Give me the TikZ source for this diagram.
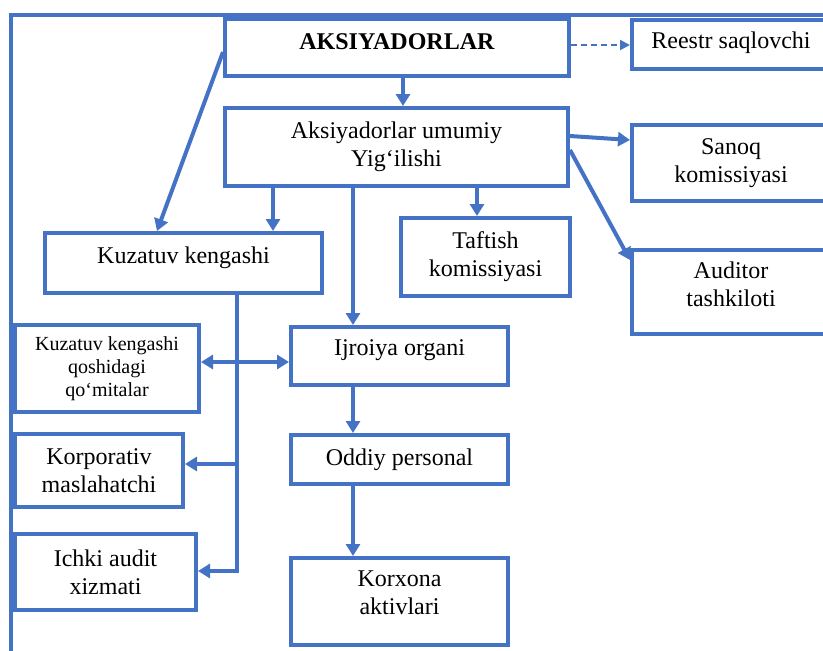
\documentclass[tikz,border=0pt]{standalone}
\usepackage{fontspec}
\setmainfont{Liberation Serif}
\usetikzlibrary{arrows.meta}
\definecolor{bl}{HTML}{4472C4}
\newcommand{\txtup}[2]{\raisebox{#1}[\height][\depth]{#2}}
\begin{document}
\begin{tikzpicture}[x=1pt,y=-1pt,
  box/.style={draw=bl, line width=4pt, inner sep=0pt, align=center, font=\fontsize{24}{28}\selectfont},
  ln/.style={draw=bl, line width=4pt, line join=miter},
  arr/.style={ln, -{Triangle[length=12pt,width=14pt]}},
  arr2/.style={ln, {Triangle[length=12pt,width=14pt]}-{Triangle[length=12pt,width=14pt]}},
  dsh/.style={draw=bl, line width=2pt, dash pattern=on 6pt off 4pt, -{Triangle[length=10pt,width=10pt]}}]
\useasboundingbox (0,0) rectangle (823,651);
\clip (0,0) rectangle (823,651);
% frame
\draw[ln] (11,660) -- (11,15) -- (830,15);
% boxes
\node[box, minimum width=344pt, minimum height=57pt] (aks) at (397,47.5) {\txtup{6pt}{\textbf{AKSIYADORLAR}}};
\node[box, minimum width=343pt, minimum height=78pt] (umu) at (396.5,147) {Aksiyadorlar umumiy\\Yig‘ilishi};
\node[box, minimum width=277pt, minimum height=60pt] (kuz) at (183.5,263) {\txtup{5pt}{Kuzatuv kengashi}};
\node[box, minimum width=169pt, minimum height=78pt] (taf) at (485.5,257) {Taftish\\komissiyasi};
\node[box, minimum width=198pt, minimum height=49pt] (ree) at (731,44.5) {\txtup{2pt}{Reestr saqlovchi}};
\node[box, minimum width=198pt, minimum height=76pt] (san) at (731,163) {Sanoq\\komissiyasi};
\node[box, minimum width=198pt, minimum height=84pt] (aud) at (731,292) {\txtup{5pt}{\begin{tabular}{@{}c@{}}Auditor\\tashkiloti\end{tabular}}};
\node[box, font=\fontsize{20}{23}\selectfont, minimum width=184pt, minimum height=87pt] (qos) at (107,368.5) {Kuzatuv kengashi\\qoshidagi\\qo‘mitalar};
\node[box, minimum width=168pt, minimum height=73pt] (kor) at (99,470.5) {Korporativ\\maslahatchi};
\node[box, minimum width=181pt, minimum height=76pt] (ich) at (105.5,572) {Ichki audit\\xizmati};
\node[box, minimum width=217pt, minimum height=58pt] (ijr) at (399.5,356) {\txtup{6pt}{Ijroiya organi}};
\node[box, minimum width=217pt, minimum height=49pt] (odd) at (399.5,459.5) {Oddiy personal};
\node[box, minimum width=217pt, minimum height=87pt] (krx) at (399.5,601.5) {\txtup{7pt}{\begin{tabular}{@{}c@{}}Korxona\\aktivlari\end{tabular}}};
% connectors
\draw[arr] (aks.south -| 403,0) -- (umu.north -| 403,0);
\draw[dsh] (aks.east |- 0,45) -- (ree.west |- 0,45);
\draw[arr] (aks.west |- 0,52) -- (kuz.north -| 157,0);
\draw[arr] (umu.south -| 273,0) -- (kuz.north -| 273,0);
\draw[arr] (umu.south -| 353,0) -- (ijr.north -| 353,0);
\draw[arr] (umu.south -| 477,0) -- (taf.north -| 477,0);
\draw[arr] (umu.east |- 0,136) -- (san.west |- 0,140);
\draw[arr] (umu.east |- 0,150) -- (aud.west |- 0,260);
\draw[arr] (ijr.south -| 353,0) -- (odd.north -| 353,0);
\draw[arr] (odd.south -| 353,0) -- (krx.north -| 353,0);
\coordinate (kb) at (237,571);
\coordinate (kk) at (237,464);
\draw[arr] (kuz.south -| kb) -- (kb) -- (ich.east |- kb);
\draw[arr] (kk) -- (kor.east |- kk);
\draw[arr2] (qos.east |- 0,362) -- (ijr.west |- 0,362);
\end{tikzpicture}
\end{document}
